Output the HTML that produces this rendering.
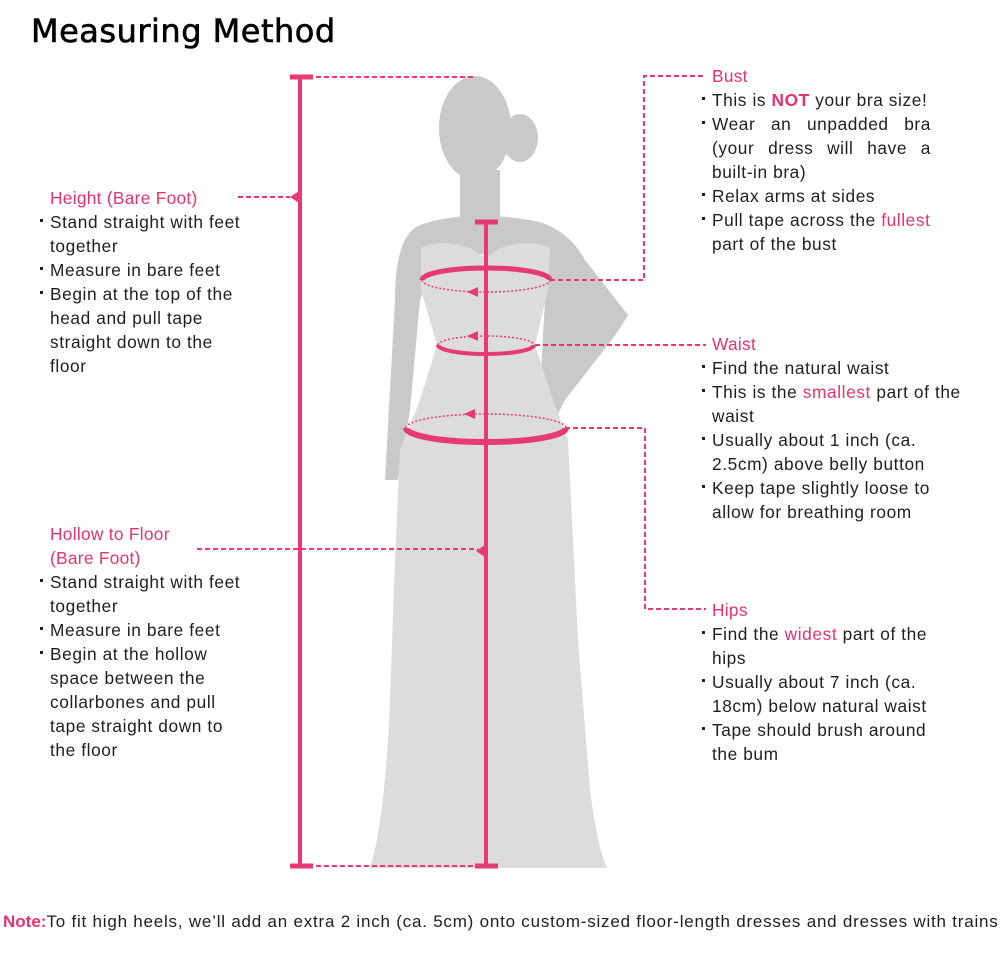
<!DOCTYPE html>
<html><head><meta charset="utf-8"><style>
body{margin:0;width:1000px;height:975px;background:#fff;position:relative;overflow:hidden;font-family:"Liberation Sans",Arial,sans-serif;color:#1e1e1e}
.b{position:absolute;font-size:17.3px;line-height:24px;letter-spacing:0.6px;white-space:nowrap}
.b div{position:relative}
.h{color:#e5336f;letter-spacing:0.3px}
.li:before{content:"";position:absolute;left:-10px;top:9px;width:3px;height:3px;background:#222}
.p{color:#e5336f}
.jj{text-align:justify;text-align-last:justify;width:219px}
</style></head><body>
<div style="position:absolute;left:31px;top:12px;font-size:32px;font-family:'DejaVu Sans','Liberation Sans',sans-serif;letter-spacing:0.5px;color:#000;-webkit-text-stroke:0.6px #000">Measuring Method</div>

<svg width="1000" height="975" style="position:absolute;left:0;top:0">
<g fill="#c9c9c9">
<ellipse cx="475" cy="128" rx="36" ry="52"/>
<ellipse cx="520" cy="138" rx="18" ry="24"/>
<rect x="460" y="170" width="40" height="50"/>
<path d="M420 225 Q470 208 540 222 Q570 232 585 260 L628 315 Q620 330 600 355 L565 400 L555 420 L540 390 L545 300 Q520 250 440 250 L420 300 L410 410 L398 480 L385 480 L395 300 Q395 235 420 225Z"/>
</g>
<path fill="#dcdcdc" d="M421 248 Q440 238 470 248 L486 258 L500 248 Q530 238 550 248 L548 290 L535 345 L553 400 L568 440 L572 520 L578 640 L590 790 Q598 850 607 868 L370 868 Q385 820 390 700 L395 560 L400 450 L420 400 L437 345 L421 290Z"/>

<g stroke="#e63a72" fill="none">
<line x1="300" y1="77" x2="300" y2="866" stroke-width="4"/>
<line x1="290" y1="77" x2="313" y2="77" stroke-width="5"/>
<line x1="290" y1="866" x2="313" y2="866" stroke-width="5"/>
<line x1="486" y1="222" x2="486" y2="866" stroke-width="4"/>
<line x1="475" y1="222" x2="498" y2="222" stroke-width="5"/>
<line x1="475" y1="866" x2="498" y2="866" stroke-width="5"/>
<g stroke-width="2" stroke-dasharray="5,3">
<line x1="316" y1="77" x2="475" y2="77"/>
<line x1="316" y1="866" x2="475" y2="866"/>
<line x1="238" y1="197" x2="290" y2="197"/>
<line x1="197" y1="549" x2="478" y2="549"/>
<polyline points="550,280 644,280 644,76 706,76"/>
<line x1="535" y1="345" x2="706" y2="345"/>
<polyline points="565,428 645,428 645,609 706,609"/>
</g>
<g stroke-width="1.5" stroke-dasharray="2,2">
<path d="M422 280 A64 12 0 0 0 550 280"/>
<path d="M438 345 A48 9 0 0 1 534 345"/>
<path d="M406 428 A80 14 0 0 1 566 428"/>
</g>
<path d="M422 280 A64 12 0 0 1 550 280" stroke-width="5"/>
<path d="M438 345 A48 9 0 0 0 534 345" stroke-width="4"/>
<path d="M406 428 A80 14 0 0 0 566 428" stroke-width="6"/>
</g>
<g fill="#e63a72">
<path d="M290 197 L302 189 L302 205Z"/>
<path d="M476 551 L488 543 L488 559Z"/>
<path d="M467 292 L478 287 L478 297Z"/>
<path d="M467 336 L478 331 L478 341Z"/>
<path d="M464 414 L475 409 L475 419Z"/>
</g>
</svg>

<div class="b" style="left:50px;top:186px">
<div class="h">Height (Bare Foot)</div>
<div class="li">Stand straight with feet<br>together</div>
<div class="li">Measure in bare feet</div>
<div class="li">Begin at the top of the<br>head and pull tape<br>straight down to the<br>floor</div>
</div>

<div class="b" style="left:50px;top:522px">
<div class="h">Hollow to Floor<br>(Bare Foot)</div>
<div class="li">Stand straight with feet<br>together</div>
<div class="li">Measure in bare feet</div>
<div class="li">Begin at the hollow<br>space between the<br>collarbones and pull<br>tape straight down to<br>the floor</div>
</div>

<div class="b" style="left:712px;top:64px">
<div class="h">Bust</div>
<div class="li">This is <b class="p">NOT</b> your bra size!</div>
<div class="li"><div class="jj">Wear an unpadded bra</div><div class="jj">(your dress will have a</div>built-in bra)</div>
<div class="li">Relax arms at sides</div>
<div class="li">Pull tape across the <span class="p">fullest</span><br>part of the bust</div>
</div>

<div class="b" style="left:712px;top:332px">
<div class="h">Waist</div>
<div class="li">Find the natural waist</div>
<div class="li">This is the <span class="p">smallest</span> part of the<br>waist</div>
<div class="li">Usually about 1 inch (ca.<br>2.5cm) above belly button</div>
<div class="li">Keep tape slightly loose to<br>allow for breathing room</div>
</div>

<div class="b" style="left:712px;top:598px">
<div class="h">Hips</div>
<div class="li">Find the <span class="p">widest</span> part of the<br>hips</div>
<div class="li">Usually about 7 inch (ca.<br>18cm) below natural waist</div>
<div class="li">Tape should brush around<br>the bum</div>
</div>

<div style="position:absolute;left:3px;top:912px;font-size:17px;letter-spacing:0.78px;white-space:nowrap;color:#1e1e1e"><b class="p" style="letter-spacing:0">Note:</b>To fit high heels, we’ll add an extra 2 inch (ca. 5cm) onto custom-sized floor-length dresses and dresses with trains</div>
</body></html>
